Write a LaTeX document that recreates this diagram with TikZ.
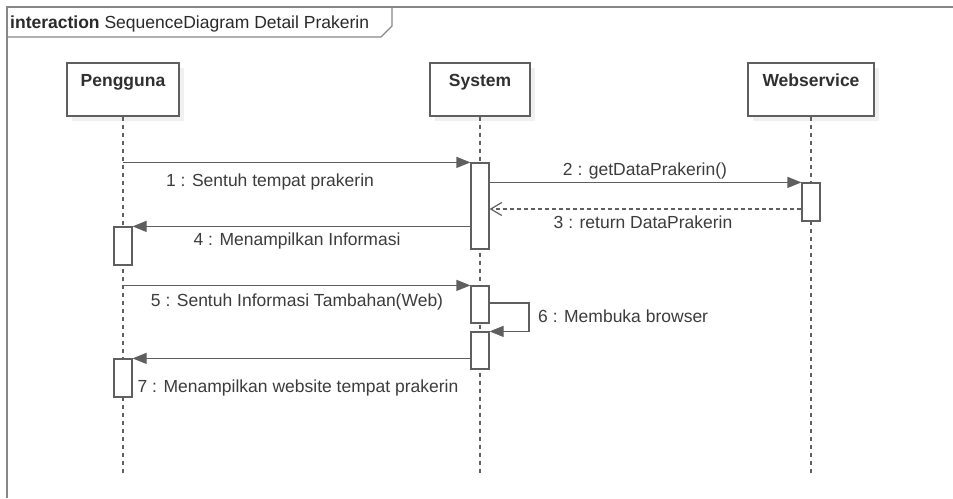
\documentclass[tikz,border=0pt]{standalone}
\usepackage{fontspec}
\setmainfont{Liberation Sans}
\usetikzlibrary{arrows.meta,positioning,shadows}
\definecolor{seqline}{RGB}{95,95,95}
\definecolor{seqframe}{RGB}{135,135,135}
\definecolor{seqtext}{RGB}{60,60,60}

\begin{document}
\begin{tikzpicture}[x=1pt,y=-1pt,font=\fontsize{17.5}{21}\selectfont,
    head/.style={draw=seqline,fill=white,line width=1.2pt,minimum height=53pt,inner sep=0pt,
      drop shadow={shadow xshift=5pt,shadow yshift=-5pt,fill=black!6,opacity=1}},
    headname/.style={anchor=base,font=\fontsize{17.5}{21}\selectfont\bfseries,text=seqtext!80!black},
    act/.style={draw=seqline,fill=white,line width=1.2pt,minimum width=18pt,inner sep=0pt},
    lifeline/.style={draw=seqline,line width=1.2pt,dash pattern=on 4pt off 4pt},
    msg/.style={draw=seqline,line width=1.2pt,-{Triangle[length=14pt,width=11pt]}},
    ret/.style={draw=seqline,line width=1.2pt,dash pattern=on 4pt off 3pt,-{Straight Barb[length=11pt,width=13pt]}},
    lbl/.style={anchor=base,text=seqtext,inner sep=0pt}]
  \useasboundingbox (0,0) rectangle (953,498);
  % frame and title tab
  \draw[seqframe,line width=1.5pt] (7,498) -- (7,7) -- (953,7);
  \draw[seqframe,line width=1.2pt] (7,37) -- (381,37) -- (392,26) -- (392,7);
  \node[anchor=base west,text=seqtext!70!black,inner sep=0pt] (title) at (10,28) {\textbf{interaction} SequenceDiagram Detail Prakerin};

  % lifeline heads
  \node[head,minimum width=112pt] (peng) at (123,89.5) {};
  \node[head,minimum width=100pt] (sys) at (480,89.5) {};
  \node[head,minimum width=126pt] (web) at (811,89.5) {};
  \node[headname] (pengname) at (123,86) {Pengguna};
  \node[headname] (sysname) at (480,86) {System};
  \node[headname] (webname) at (811,86) {Webservice};

  \coordinate (pengend) at (123,475);
  \coordinate (sysend) at (480,475);
  \coordinate (webend) at (811,475);
  \draw[lifeline] (peng.south) -- (pengend);
  \draw[lifeline] (sys.south) -- (sysend);
  \draw[lifeline] (web.south) -- (webend);

  % activations
  \node[act,minimum height=86pt] (sa1) at (480,206) {};
  \node[act,minimum height=38pt] (wa) at (811,202) {};
  \node[act,minimum height=38pt] (pa1) at (123,246) {};
  \node[act,minimum height=37pt] (sa2) at (480,304.5) {};
  \node[act,minimum height=37pt] (sa3) at (480,350.5) {};
  \node[act,minimum height=38pt] (pa2) at (123,378) {};

  % messages
  \draw[msg] (peng.south |- sa1.north) -- (sa1.north west);
  \node[lbl] (l1) at (270,186) {1 : Sentuh tempat prakerin};
  \draw[msg] (sa1.east |- wa.north) -- (wa.north west);
  \node[lbl] (l2) at (645,175) {2 : getDataPrakerin()};
  \draw[ret] (wa.west |- 0,209) -- (sa1.east |- 0,209);
  \node[lbl] (l3) at (643,228) {3 : return DataPrakerin};
  \draw[msg] (sa1.west |- pa1.north) -- (pa1.north east);
  \node[lbl] (l4) at (297,245) {4 : Menampilkan Informasi};
  \draw[msg] (peng.south |- sa2.north) -- (sa2.north west);
  \node[lbl] (l5) at (297,306) {5 : Sentuh Informasi Tambahan(Web)};
  \draw[msg] (sa2.east |- 0,303) -- (529,303) -- (sa3.north -| 529,0) -- (sa3.north east);
  \node[lbl,anchor=base west] (l6) at (538,322) {6 : Membuka browser};
  \draw[msg] (sa3.west |- pa2.north) -- (pa2.north east);
  \node[lbl] (l7) at (298,392) {7 : Menampilkan website tempat prakerin};
\end{tikzpicture}
\end{document}
